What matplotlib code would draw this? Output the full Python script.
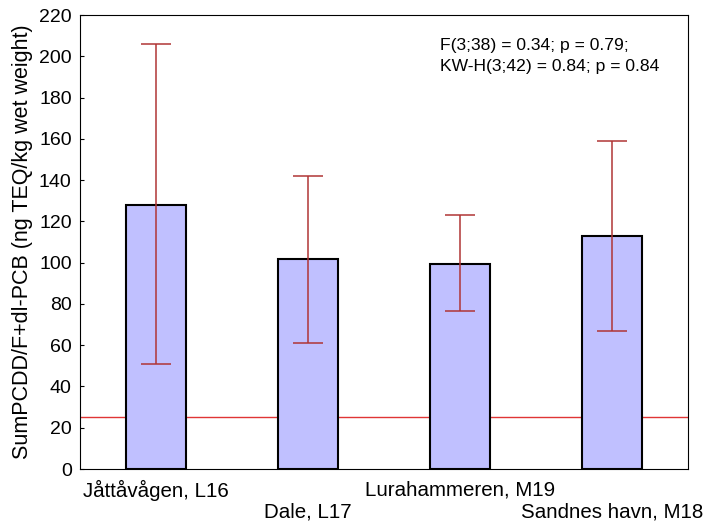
import matplotlib.pyplot as plt
import numpy as np

plt.rcParams['font.family'] = ['Liberation Sans', 'DejaVu Sans']

stations = ["Jåttåvågen, L16", "Dale, L17", "Lurahammeren, M19", "Sandnes havn, M18"]
means = [128, 102, 99.5, 113]
lower = [51, 61, 76.5, 67]
upper = [206, 142, 123, 159]
limit = 25

fig = plt.figure(figsize=(7.05, 5.24), dpi=100)
ax = fig.add_axes([80 / 705, 1 - 469 / 524, 608 / 705, 454 / 524])

x = np.arange(len(stations))
ax.axhline(limit, color="#e03535", lw=1, zorder=1)
ax.bar(x, means, width=0.4, color="#c0c0ff", edgecolor="black", lw=1.5, zorder=2)
yerr = [np.array(means) - np.array(lower), np.array(upper) - np.array(means)]
ax.errorbar(x, means, yerr=yerr, fmt="none", ecolor="#b03535", elinewidth=1.1,
            capsize=10.8, capthick=1.1, zorder=3)

ax.set_xlim(-0.5, 3.5)
ax.set_ylim(0, 220)
ax.set_yticks(range(0, 221, 20))
ax.set_xticks(x)
ax.set_xticklabels([])
ax.tick_params(direction="in", length=3, labelsize=14, pad=6)
for i, s in enumerate(stations):
    off = -8 if i % 2 == 0 else -24
    ax.annotate(s, (x[i], 0), xycoords="data", xytext=(0, off), textcoords="offset points",
                ha="center", va="top", fontsize=14.8)

ax.set_ylabel("SumPCDD/F+dl-PCB (ng TEQ/kg wet weight)", fontsize=15.5, labelpad=4)
ax.text(0.592, 0.949, "F(3;38) = 0.34; p = 0.79;\nKW-H(3;42) = 0.84; p = 0.84",
        transform=ax.transAxes, fontsize=12.6, va="top", linespacing=1.45)

plt.savefig("out.png", dpi=100)
